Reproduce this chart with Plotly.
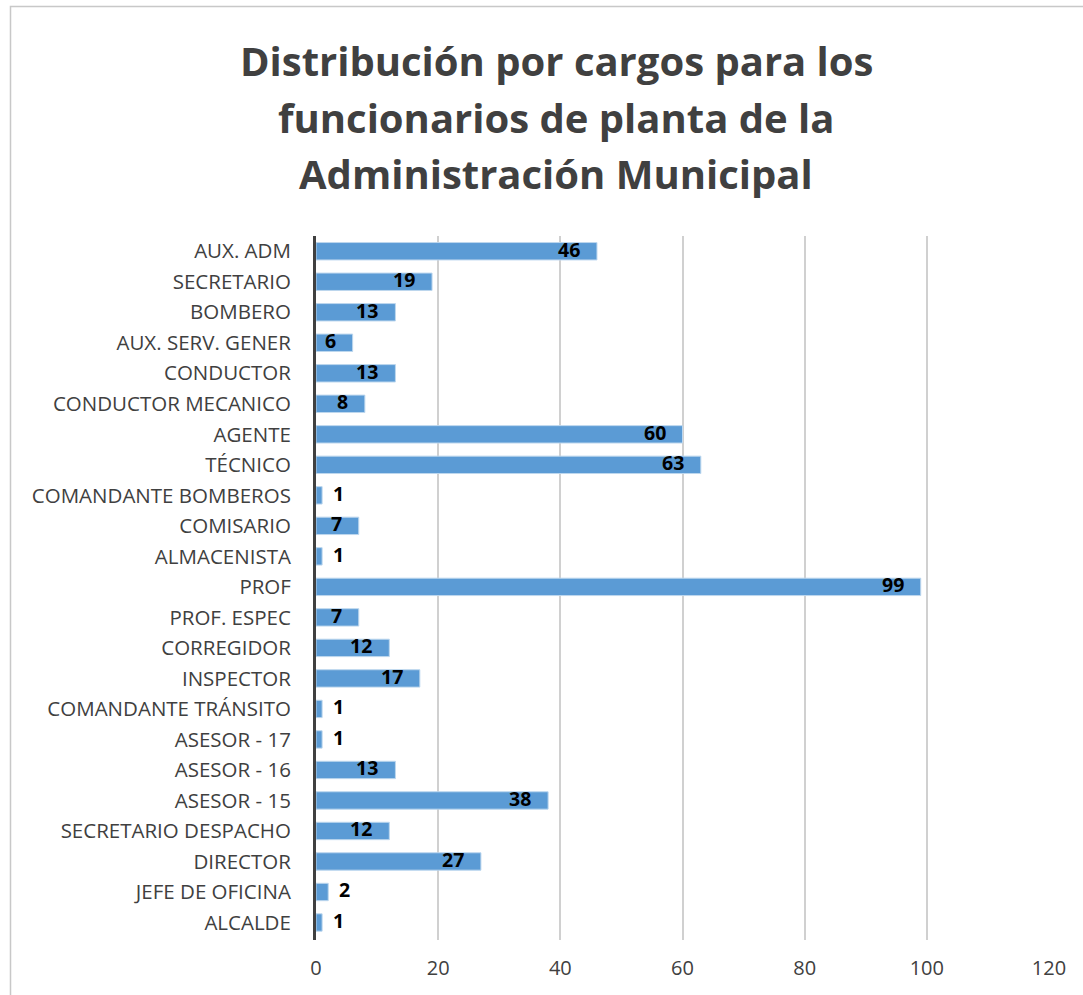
import plotly.graph_objects as go

categories = ["AUX. ADM", "SECRETARIO", "BOMBERO", "AUX. SERV. GENER", "CONDUCTOR",
              "CONDUCTOR MECANICO", "AGENTE", "TÉCNICO", "COMANDANTE BOMBEROS", "COMISARIO",
              "ALMACENISTA", "PROF", "PROF. ESPEC", "CORREGIDOR", "INSPECTOR",
              "COMANDANTE TRÁNSITO", "ASESOR - 17", "ASESOR - 16", "ASESOR - 15",
              "SECRETARIO DESPACHO", "DIRECTOR", "JEFE DE OFICINA", "ALCALDE"]
values = [46, 19, 13, 6, 13, 8, 60, 63, 1, 7, 1, 99, 7, 12, 17, 1, 1, 13, 38, 12, 27, 2, 1]
x_ticks = [0, 20, 40, 60, 80, 100, 120]
title_lines = ["Distribución por cargos para los", "funcionarios de planta de la",
               "Administración Municipal"]

W, H = 1083, 995
L, R, T, B = 316, 34, 236, 55
pw, ph = W - L - R, H - T - B


def py2paper(py):
    return (H - B - py) / ph


def px2paper(px):
    return (px - L) / pw


fig = go.Figure(go.Bar(
    y=categories, x=values, orientation="h",
    marker=dict(color="#5B9BD5", line=dict(color="#BDD7EE", width=1)),
    hoverinfo="x+y",
))

annotations = []
for cat, v in zip(categories, values):
    inside = v >= 5
    annotations.append(dict(
        x=v, y=cat, xref="x", yref="y", text=str(v), showarrow=False,
        xanchor="right" if inside else "left", xshift=-15 if inside else 9,
        yanchor="middle", yshift=2,
        font=dict(family="Open Sans", size=19.5, color="#000000", weight="bold"),
    ))

title_centers = [60, 117, 174]
for line, cy in zip(title_lines, title_centers):
    annotations.append(dict(
        x=px2paper(556), y=py2paper(cy), xref="paper", yref="paper",
        text=line, showarrow=False, xanchor="center", yanchor="middle",
        font=dict(family="Open Sans", size=40, color="#404040", weight="bold"),
    ))

fig.update_layout(
    width=W, height=H,
    margin=dict(l=L, r=R, t=T, b=B, autoexpand=False),
    paper_bgcolor="white", plot_bgcolor="white",
    bargap=0.43,
    showlegend=False,
    annotations=annotations,
    xaxis=dict(range=[0, 120], tickvals=x_ticks, showgrid=True, gridcolor="#D0D0D0",
               gridwidth=1.5, zeroline=False, showline=False, ticks="",
               tickfont=dict(family="Open Sans", size=20, color="#404040"),
               ticklabelstandoff=14),
    yaxis=dict(autorange="reversed", showgrid=False, showline=True, linecolor="#404040",
               linewidth=3, ticks="", ticklabelstandoff=18,
               tickfont=dict(family="Open Sans", size=20.5, color="#404040")),
    shapes=[dict(type="rect", xref="paper", yref="paper",
                 x0=px2paper(10.5), x1=px2paper(1095),
                 y0=py2paper(1010), y1=py2paper(6.5),
                 line=dict(color="#C8C8C8", width=1.5), fillcolor="rgba(0,0,0,0)",
                 layer="below")],
)

fig.write_html("out.html", config={"displayModeBar": False},
               post_script="document.body.style.margin='0';document.body.style.padding='0';")
